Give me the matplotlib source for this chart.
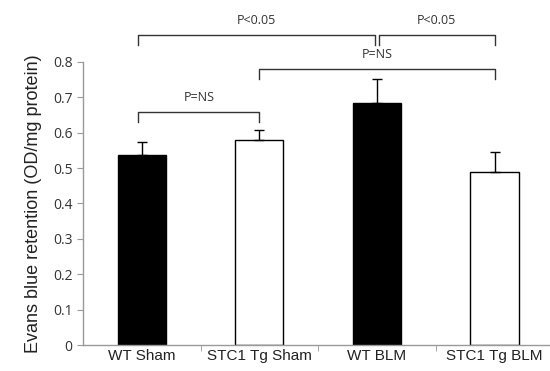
import matplotlib.pyplot as plt
import numpy as np

groups = ['WT Sham', 'STC1 Tg Sham', 'WT BLM', 'STC1 Tg BLM']
means = [0.537, 0.579, 0.684, 0.489]
errs = [0.036, 0.028, 0.067, 0.056]
fills = ['black', 'white', 'black', 'white']
yticks = [0, 0.1, 0.2, 0.3, 0.4, 0.5, 0.6, 0.7, 0.8]
ytick_labels = ['0', '0.1', '0.2', '0.3', '0.4', '0.5', '0.6', '0.7', '0.8']

# significance brackets: (left group, right group, bar height, end height, label)
brackets = [
    (0, 1, 0.658, 0.630, 'P=NS'),
    (1, 3, 0.780, 0.751, 'P=NS'),
    (0, 2, 0.876, 0.847, 'P<0.05'),
    (2, 3, 0.876, 0.847, 'P<0.05'),
]

plt.rcParams['font.family'] = ['Open Sans', 'DejaVu Sans']

fig = plt.figure(figsize=(5.5, 3.71), dpi=100)
ax = fig.add_axes([0.151, 0.070, 0.855, 0.763])

x = np.arange(len(groups))
ax.bar(x, means, width=0.41, color=fills, edgecolor='black', linewidth=1.0, zorder=2)
ax.errorbar(x, means, yerr=[np.zeros(len(errs)), errs], fmt='none', ecolor='black',
            elinewidth=1.0, capsize=3.5, capthick=1.0, zorder=3)

for g1, g2, top, end, label in brackets:
    x1 = x[g1] - 0.03 if g1 == 0 else x[g1]
    x2 = x[g2]
    if g1 == 2:
        x1 = x[g1] + 0.015
    if g2 == 2:
        x2 = x[g2] - 0.015
    ax.plot([x1, x1, x2, x2], [end, top, top, end], color='#333333', lw=1.0, clip_on=False)
    ax.text((x1 + x2) / 2, top + 0.022, label, ha='center', va='bottom', fontsize=9,
            color='#333333', clip_on=False)

ax.set_xlim(-0.5, 3.5)
ax.set_ylim(0, 0.8)
ax.set_yticks(yticks)
ax.set_yticklabels(ytick_labels)
ax.set_xticks(x)
ax.set_xticklabels(groups, family=['Liberation Sans', 'DejaVu Sans'])
ax.set_xticks([0.5, 1.5, 2.5], minor=True)
ax.tick_params(axis='x', which='major', length=0, labelsize=11, colors='#222222', pad=3)
ax.tick_params(axis='x', which='minor', length=4, color='#999999', direction='out')
ax.tick_params(axis='y', length=4, color='#999999', labelsize=10, labelcolor='#333333')

for s in ['top', 'right']:
    ax.spines[s].set_visible(False)
for s in ['left', 'bottom']:
    ax.spines[s].set_color('#999999')
    ax.spines[s].set_linewidth(1.0)

ax.set_ylabel('Evans blue retention (OD/mg protein)', fontsize=13, color='#222222',
              labelpad=8, family=['Liberation Sans', 'DejaVu Sans'])

fig.savefig('out.png', dpi=100)
